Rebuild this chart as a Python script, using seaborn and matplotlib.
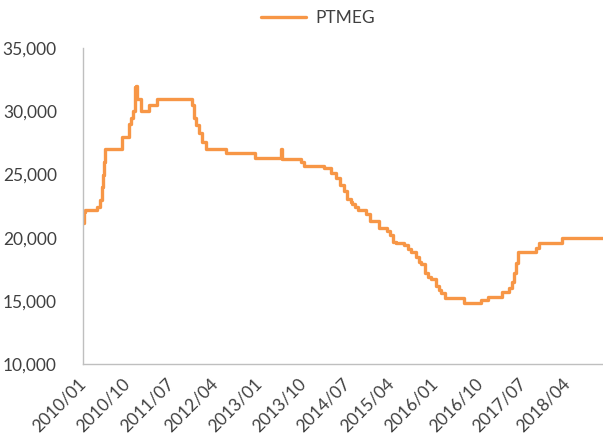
import matplotlib
matplotlib.use("Agg")

import matplotlib.pyplot as plt
import matplotlib.dates as mdates
import matplotlib.ticker as mticker
import numpy as np
import pandas as pd
import seaborn as sns

# ---------------------------------------------------------------------------
# Data (step series)
# ---------------------------------------------------------------------------
dates = [
    "2010-01-01", "2010-01-07", "2010-01-15", "2010-03-28", "2010-04-18",
    "2010-04-28", "2010-05-04", "2010-05-11", "2010-05-19", "2010-08-28",
    "2010-10-13", "2010-10-25", "2010-11-07", "2010-11-16", "2010-11-22",
    "2010-12-01", "2010-12-25", "2011-02-15", "2011-04-04", "2011-11-07",
    "2011-11-19", "2011-12-01", "2011-12-19", "2012-01-07", "2012-02-04",
    "2012-06-07", "2012-12-04", "2013-05-13", "2013-05-19", "2013-09-15",
    "2013-10-07", "2014-02-07", "2014-03-19", "2014-04-22", "2014-05-16",
    "2014-06-10", "2014-07-01", "2014-07-20", "2014-08-01", "2014-08-20",
    "2014-09-07", "2014-10-25", "2014-11-19", "2015-01-13", "2015-03-01",
    "2015-03-20", "2015-04-07", "2015-05-01", "2015-06-15", "2015-07-10",
    "2015-08-01", "2015-09-01", "2015-09-20", "2015-10-01", "2015-10-25",
    "2015-11-15", "2015-12-01", "2016-01-01", "2016-01-20", "2016-02-01",
    "2016-03-01", "2016-06-25", "2016-10-07", "2016-11-19", "2017-02-15",
    "2017-04-01", "2017-04-19", "2017-05-01", "2017-05-13", "2017-05-25",
    "2017-09-13", "2017-10-01", "2018-02-25", "2018-11-05",
]
ptmeg = [
    21200, 22000, 22200, 22450, 23000,
    24000, 25000, 26000, 27000, 28000,
    29000, 29500, 30000, 31900, 32000,
    31000, 30000, 30500, 31000, 30500,
    29500, 28900, 28250, 27600, 27000,
    26700, 26300, 27000, 26200, 26000,
    25700, 25500, 25100, 24700, 24200,
    23700, 23100, 22800, 22700, 22400,
    22200, 21900, 21300, 20800, 20500,
    20200, 19700, 19600, 19400, 19100,
    18900, 18500, 18100, 17900, 17200,
    16900, 16700, 16200, 15900, 15600,
    15200, 14850, 15050, 15300, 15700,
    16000, 16500, 17200, 18000, 18900,
    19200, 19600, 20000, 20000,
]
tick_dates = ["2010-01-01", "2010-10-01", "2011-07-01", "2012-04-01",
              "2013-01-01", "2013-10-01", "2014-07-01", "2015-04-01",
              "2016-01-01", "2016-10-01", "2017-07-01", "2018-04-01"]
y_ticks = [10000, 15000, 20000, 25000, 30000, 35000]

LINE = "#F79646"
TEXT = "#404040"
AXIS = "#BFBFBF"

df = pd.DataFrame({"date": pd.to_datetime(dates), "PTMEG": ptmeg})

sns.set_theme(style="white")
plt.rcParams["font.family"] = ["Lato", "DejaVu Sans"]

fig = plt.figure(figsize=(6.03, 4.34), dpi=100)
ax = fig.add_axes([0.138, 0.161, 0.862, 0.728])

sns.lineplot(data=df, x="date", y="PTMEG", ax=ax, color=LINE, linewidth=2.4,
             drawstyle="steps-post", estimator=None, label="PTMEG")

ax.set_xlim(pd.Timestamp("2010-01-01"), pd.Timestamp("2018-11-05"))
ax.set_ylim(10000, 35000)
ax.set_yticks(y_ticks)
ax.yaxis.set_major_formatter(mticker.StrMethodFormatter("{x:,.0f}"))
ax.set_xlabel("")
ax.set_ylabel("")

for side in ("top", "right"):
    ax.spines[side].set_visible(False)
for side in ("left", "bottom"):
    ax.spines[side].set_color(AXIS)
    ax.spines[side].set_linewidth(1.0)

ax.tick_params(axis="both", which="major", direction="out", length=5,
               width=1.0, color=AXIS, labelcolor=TEXT, labelsize=12.5)
ax.tick_params(axis="y", pad=14)
ax.tick_params(axis="x", pad=7, labelsize=12.5)

# x ticks / labels last so the rotation sticks
tick_pos = pd.to_datetime(tick_dates)
ax.set_xticks(tick_pos)
ax.set_xticklabels([d.strftime("%Y/%m") for d in tick_pos], rotation=45,
                   ha="right", rotation_mode="anchor", va="center")

ax.legend(loc="center", bbox_to_anchor=(0.527, 0.958), bbox_transform=fig.transFigure,
          frameon=False, fontsize=12.5, handlelength=2.6, handletextpad=0.5,
          labelcolor=TEXT)

fig.savefig("out.png", dpi=100, facecolor="white")
